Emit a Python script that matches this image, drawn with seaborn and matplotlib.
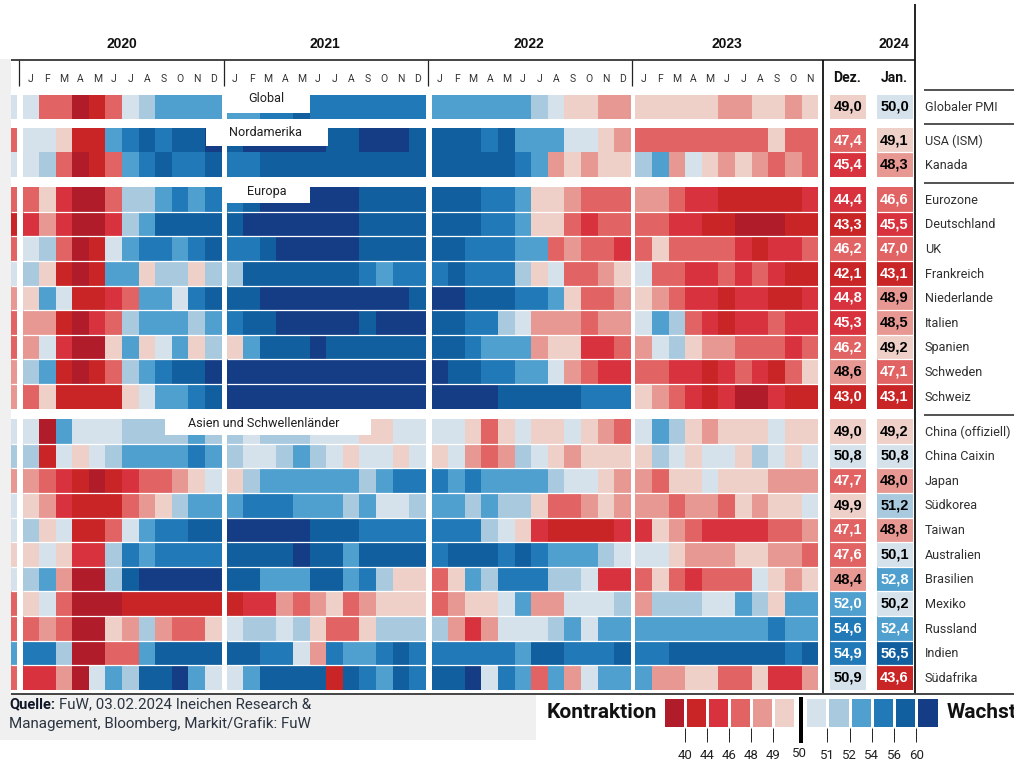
import numpy                as np
import seaborn              as sns
import matplotlib.pyplot    as plt

from matplotlib             import font_manager
from matplotlib.colors      import ListedColormap
from matplotlib.patches     import Rectangle

# ======================================================================== DATA ========================================================================

# PMI class of every month (0 = below 40 ... 11 = above 60): Dec 2019, 2020, 2021, 2022, Jan-Nov 2023
globaler_pmi = [6, 6,3,3,0,1,3,6,7,8,8,8,8, 8,8,9,9,10,9,9,9,9,9,9,9, 8,8,8,8,8,8,7,6,5,5,4,4, 5,5,5,5,5,4,4,5,5,4,5]
usa_ism      = [3, 6,6,5,1,1,8,9,10,9,10,10,11, 10,11,11,11,11,11,10,10,11,11,11,10, 10,10,10,9,10,8,8,8,6,6,5,4, 3,3,3,3,3,3,3,3,5,3,3]
kanada       = [6, 6,7,3,0,1,3,8,9,10,9,9,10, 9,9,10,10,10,10,10,10,10,10,10,10, 10,10,10,10,10,9,8,4,5,4,5,5, 7,8,4,6,5,4,5,4,3,4,3]

eurozone     = [3, 3,5,2,0,0,3,7,7,8,9,8,9, 9,10,11,11,11,11,11,11,10,10,10,10, 10,10,10,9,9,8,5,5,4,3,3,3, 4,4,3,2,2,1,1,1,1,1,2]
deutschland  = [1, 2,4,2,0,0,2,7,8,10,10,10,10, 10,11,11,11,11,11,11,11,10,10,10,10, 10,10,10,9,9,8,5,5,3,2,3,3, 3,3,2,2,1,1,0,0,0,1,1]
uk           = [3, 6,7,3,0,1,6,8,9,9,8,9,10, 9,9,10,11,11,11,11,11,10,10,10,10, 10,10,9,9,9,8,8,3,4,3,3,2, 3,5,3,3,3,3,2,1,2,2,3]
frankreich   = [6, 7,5,1,0,1,8,8,5,7,7,5,7, 7,10,10,10,10,10,10,10,9,8,9,9, 9,10,9,9,9,7,5,6,3,3,4,5, 6,3,3,2,2,3,2,3,2,1,1]
niederlande  = [4, 5,8,6,1,1,2,3,8,8,6,9,10, 10,10,11,11,11,11,11,11,11,11,11,10, 11,11,10,10,10,9,9,8,5,3,3,4, 5,4,3,2,2,1,2,2,1,1,2]
italien      = [3, 4,4,1,0,2,3,7,8,8,8,7,8, 9,10,10,11,11,11,11,11,10,11,11,11, 10,10,9,9,7,6,4,4,4,3,4,4, 6,8,7,3,2,1,2,2,3,2,2]
spanien      = [3, 4,6,2,0,0,5,8,5,6,8,5,7, 5,8,10,10,10,11,10,10,10,10,10,10, 10,10,9,8,8,8,4,5,5,2,2,3, 4,6,7,5,4,4,3,3,3,2,3]
schweden     = [4, 7,8,1,0,1,3,7,8,9,10,10,11, 11,11,11,11,11,11,11,11,11,11,11,11, 11,10,10,9,9,8,8,6,4,3,2,2, 3,3,2,2,1,2,3,2,1,3,5]
schweiz      = [4, 3,5,1,1,1,1,5,6,8,8,9,10, 11,11,11,11,11,11,11,11,11,11,11,11, 11,11,11,11,10,10,10,10,10,9,9,9, 5,4,3,2,1,2,0,0,2,1,1]

china_off    = [6, 6,0,8,6,6,6,7,7,7,7,8,7, 7,6,7,7,7,6,6,6,5,5,6,6, 6,6,5,3,5,6,5,5,6,5,4,3, 6,8,7,5,4,5,5,5,6,5,5]
china_caixin = [7, 7,1,6,5,6,7,8,8,8,8,9,8, 7,6,6,7,8,7,6,5,6,6,5,6, 5,6,4,3,4,7,6,5,4,5,5,5, 5,7,6,5,6,6,5,7,6,5,6]
japan        = [4, 4,3,2,1,0,1,2,3,3,4,5,6, 5,7,8,8,8,8,8,8,7,8,9,9, 9,8,9,8,8,8,8,7,6,6,5,4, 4,3,5,5,6,5,5,5,4,4,4]
suedkorea    = [6, 5,4,2,1,1,1,3,4,5,7,8,8, 8,9,9,9,8,8,8,7,8,6,6,7, 8,8,7,8,7,7,5,3,3,4,5,4, 4,4,3,4,4,3,5,4,5,5,6]
taiwan       = [6, 7,5,6,1,1,3,6,8,9,9,10,10, 11,11,11,11,11,10,10,10,9,9,9,9, 9,9,9,7,6,5,2,1,1,1,1,2, 2,5,4,3,2,2,2,2,3,3,4]
australien   = [5, 5,6,5,2,2,7,9,8,9,9,9,9, 10,10,10,10,11,10,10,8,10,10,10,10, 9,10,10,10,9,10,9,8,8,8,7,6, 6,6,5,4,4,4,5,5,4,4,3]
brasilien    = [6, 7,8,4,0,0,7,10,11,11,11,11,11, 10,10,8,8,8,10,10,8,9,7,5,5, 3,5,8,7,9,9,9,7,7,6,2,2, 3,5,3,2,3,3,3,6,5,4,5]
mexiko       = [3, 5,6,3,0,0,0,1,1,1,1,1,1, 1,2,2,4,3,4,5,3,4,5,5,5, 3,4,5,5,6,8,4,4,6,6,6,7, 4,7,7,7,6,6,8,7,5,8,8]
russland     = [3, 3,4,3,0,0,5,4,7,4,3,3,5, 6,7,7,6,7,5,3,3,5,7,7,7, 7,4,2,4,6,6,6,7,8,6,8,8, 8,8,8,8,8,8,8,8,9,8,8]
indien       = [8, 9,9,7,0,0,3,3,8,10,10,10,10, 10,10,9,9,6,4,9,8,8,9,10,9, 9,9,9,9,9,8,10,10,9,9,9,10, 9,9,10,10,10,10,10,10,10,9,10]
suedafrika   = [3, 2,2,4,0,6,8,7,10,10,11,8,6, 6,8,10,10,10,10,1,10,9,8,10,9, 10,10,11,6,9,8,3,8,4,6,8,8, 8,4,4,5,5,3,3,5,2,2,4]

# Last two columns, printed values
dez_2023 = [49.0, 47.4, 45.4, 44.4, 43.3, 46.2, 42.1, 44.8, 45.3, 46.2, 48.6, 43.0, 49.0, 50.8, 47.7, 49.9, 47.1, 47.6, 48.4, 52.0, 54.6, 54.9, 50.9]
jan_2024 = [50.0, 49.1, 48.3, 46.6, 45.5, 47.0, 43.1, 48.9, 48.5, 49.2, 47.1, 43.1, 49.2, 50.8, 48.0, 51.2, 48.8, 50.1, 52.8, 50.2, 52.4, 56.5, 43.6]

# Row labels of the four blocks
labels_global = ["Globaler PMI"]
labels_nord   = ["USA (ISM)", "Kanada"]
labels_europa = ["Eurozone", "Deutschland", "UK", "Frankreich", "Niederlande", "Italien", "Spanien", "Schweden", "Schweiz"]
labels_asien  = ["China (offiziell)", "China Caixin", "Japan", "Südkorea", "Taiwan", "Australien", "Brasilien", "Mexiko", "Russland", "Indien", "Südafrika"]

years        = ["2020", "2021", "2022", "2023"]
month_labels = ["J", "F", "M", "A", "M", "J", "J", "A", "S", "O", "N", "D"]

# Colour classes and legend
class_edges   = [40, 44, 46, 48, 49, 50, 51, 52, 54, 56, 60]
class_colours = ["#b01c2a", "#c92527", "#d9323f", "#e16363", "#e79893", "#eed0c8",
                 "#d5e2ec", "#a9c9df", "#50a0cf", "#2179b8", "#125fa0", "#153d86"]
legend_red    = [0, 1, 2, 3, 4, 5]
legend_blue   = [6, 7, 8, 9, 10, 11]
ticks_red     = ["40", "44", "46", "48", "49"]
ticks_blue    = ["51", "52", "54", "56", "60"]

# ======================================================================== LAYOUT ========================================================================

W, H = 1014, 761

# Pixel spans of the blocks: (first slice index, last slice index, left, right)
COLUMNS = [(0, 1, 11, 17), (1, 13, 22.5, 221.7), (13, 25, 226.7, 425.7), (25, 37, 431.7, 630.7), (37, 48, 635.3, 818.3)]

# rows, labels, top, bottom, white lines between rows
GROUPS = [
    ([globaler_pmi], labels_global, 95, 118.5, False),
    ([usa_ism, kanada], labels_nord, 128.3, 176.7, False),
    ([eurozone, deutschland, uk, frankreich, niederlande, italien, spanien, schweden, schweiz], labels_europa, 187.3, 408.7, True),
    ([china_off, china_caixin, japan, suedkorea, taiwan, australien, brasilien, mexiko, russland, indien, suedafrika], labels_asien, 419, 690, True),
]

# ======================================================================== FONTS ========================================================================

sns.set_theme(style="white")
installed = {f.name for f in font_manager.fontManager.ttflist}
NARROW = "Liberation Sans Narrow" if "Liberation Sans Narrow" in installed else "Roboto"
plt.rcParams["font.family"] = ["Liberation Sans"]

# ======================================================================== HELPERS ========================================================================

cmap = ListedColormap(class_colours)

def pixel_axes(left, top, right, bottom):
    return fig.add_axes([left / W, 1 - bottom / H, (right - left) / W, (bottom - top) / H])

def draw_heatmap(matrix, left, top, right, bottom, separate=False, annot=None):
    ax = pixel_axes(left, top, right, bottom)
    sns.heatmap(np.array(matrix), cmap=cmap, vmin=-0.5, vmax=11.5, cbar=False, ax=ax,
                xticklabels=False, yticklabels=False, annot=annot, fmt="",
                annot_kws={"fontsize": 10.5, "fontweight": "bold"})
    for text in ax.texts:
        if text.get_color() != "w":
            text.set_color("black")
    if separate:
        ax.hlines(np.arange(1, len(matrix)), 0, len(matrix[0]), color="white", linewidth=0.9)
    return ax

# ======================================================================== MAIN EXECUTION ========================================================================

fig = plt.figure(figsize=(W / 100, H / 100), dpi=100, facecolor="white")

page = fig.add_axes([0, 0, 1, 1], zorder=5)
page.set_xlim(0, W)
page.set_ylim(H, 0)
page.axis("off")

background = fig.add_axes([0, 0, 1, 1], zorder=-1)
background.set_xlim(0, W)
background.set_ylim(H, 0)
background.axis("off")
background.add_patch(Rectangle((0, 59), 11, 635, color="#f0f0f0", linewidth=0))
background.add_patch(Rectangle((0, 694), 536, 46, color="#f0f0f0", linewidth=0))

row_index = 0
for rows, labels, top, bottom, separate in GROUPS:
    rows = np.array(rows)
    for first, last, left, right in COLUMNS:
        draw_heatmap(rows[:, first:last], left, top, right, bottom, separate)

    count = len(rows)
    for column, (values, left, right) in enumerate([(dez_2023, 830, 865.5), (jan_2024, 876.5, 912.5)]):
        numbers = values[row_index:row_index + count]
        classes = np.digitize(numbers, class_edges).reshape(-1, 1)
        annot = np.array([f"{v:.1f}".replace(".", ",") for v in numbers]).reshape(-1, 1)
        draw_heatmap(classes, left, top, right, bottom, True, annot)

    step = (bottom - top) / count
    for position, label in enumerate(labels):
        page.text(925, top + step * (position + 0.5) + 0.7, label, family=NARROW, fontsize=9.1, color="#303030", va="center", ha="left")
    row_index += count

# Group titles on white tabs
for title, x0, x1, y0, y1, xt, yt in [("Global", 227, 310, 95, 112.7, 266.5, 99),
                                      ("Nordamerika", 205.7, 327.7, 128, 145.7, 266, 133),
                                      ("Europa", 222, 310, 187, 203.3, 266.7, 192),
                                      ("Asien und Schwellenländer", 164.7, 371, 419, 435, 264, 423.5)]:
    page.add_patch(Rectangle((x0, y0), x1 - x0, y1 - y0, color="white", linewidth=0))
    page.text(xt, yt, title, family=NARROW, fontsize=9.1, color="#202020", ha="center", va="center")

# Header
page.hlines(59.5, 11, 915, color="#444444", linewidth=1.4)
for position, year in zip([122, 325, 529, 727], years):
    page.text(position, 44, year, fontsize=10, fontweight="bold", color="#111111", ha="center", va="center")
page.text(894, 44, "2024", fontsize=10, fontweight="bold", color="#111111", ha="center", va="center")
page.text(847.5, 78.5, "Dez.", family=NARROW, fontsize=10, fontweight="bold", color="#111111", ha="center", va="center")
page.text(894.5, 78.5, "Jan.", family=NARROW, fontsize=10, fontweight="bold", color="#111111", ha="center", va="center")
page.vlines([18.7, 223.7, 427.5, 632.3], 59.5, 85.5, color="#222222", linewidth=0.9)
for first, last, left, right in COLUMNS[1:]:
    step = (right - left) / (last - first)
    for position in range(last - first):
        page.text(left + step * (position + 0.5), 79.5, month_labels[position], family=NARROW, fontsize=7.5, color="#333333", ha="center", va="center")

# Frame lines
page.vlines(823.3, 59.5, 693.5, color="#111111", linewidth=1.3)
page.vlines(915.3, 4, 693.5, color="#111111", linewidth=1.3)
page.hlines([90.3, 124.3, 183, 414.5], 924, W, color="#444444", linewidth=1.3)
page.hlines(693.8, 11, W, color="#444444", linewidth=1.4)

# Source
page.text(9, 704, "Quelle:", family=NARROW, fontsize=10.5, fontweight="bold", color="#101828", va="center")
page.text(59, 704, "FuW, 03.02.2024 Ineichen Research &", family=NARROW, fontsize=10.9, color="#2b3440", va="center")
page.text(9, 724, "Management, Bloomberg, Markit/Grafik: FuW", family=NARROW, fontsize=10.9, color="#2b3440", va="center")

# Legend
for classes, ticks, left, right in [(legend_red, ticks_red, 663, 795), (legend_blue, ticks_blue, 805, 938.5)]:
    ax = pixel_axes(left, 697, right, 728)
    sns.heatmap(np.array([classes]), cmap=cmap, vmin=-0.5, vmax=11.5, cbar=False, ax=ax,
                xticklabels=False, yticklabels=False, linewidths=1, linecolor="white")
    ax.set_xticks(np.arange(1, 6))
    ax.set_xticklabels(ticks, family=NARROW, color="#222222")
    ax.tick_params(axis="x", bottom=True, length=10, width=0.7, color="#222222", pad=5, labelsize=9.5)
page.add_patch(Rectangle((799, 697), 4, 46, color="black", linewidth=0))
page.text(799.5, 753.5, "50", family=NARROW, fontsize=9.5, color="#222222", ha="center", va="center")
page.text(547, 713, "Kontraktion", family=NARROW, fontsize=15, fontweight="bold", color="#111111", va="center")
page.text(947, 713, "Wachstum", family=NARROW, fontsize=15, fontweight="bold", color="#111111", va="center")

fig.savefig("out.png", dpi=100)
